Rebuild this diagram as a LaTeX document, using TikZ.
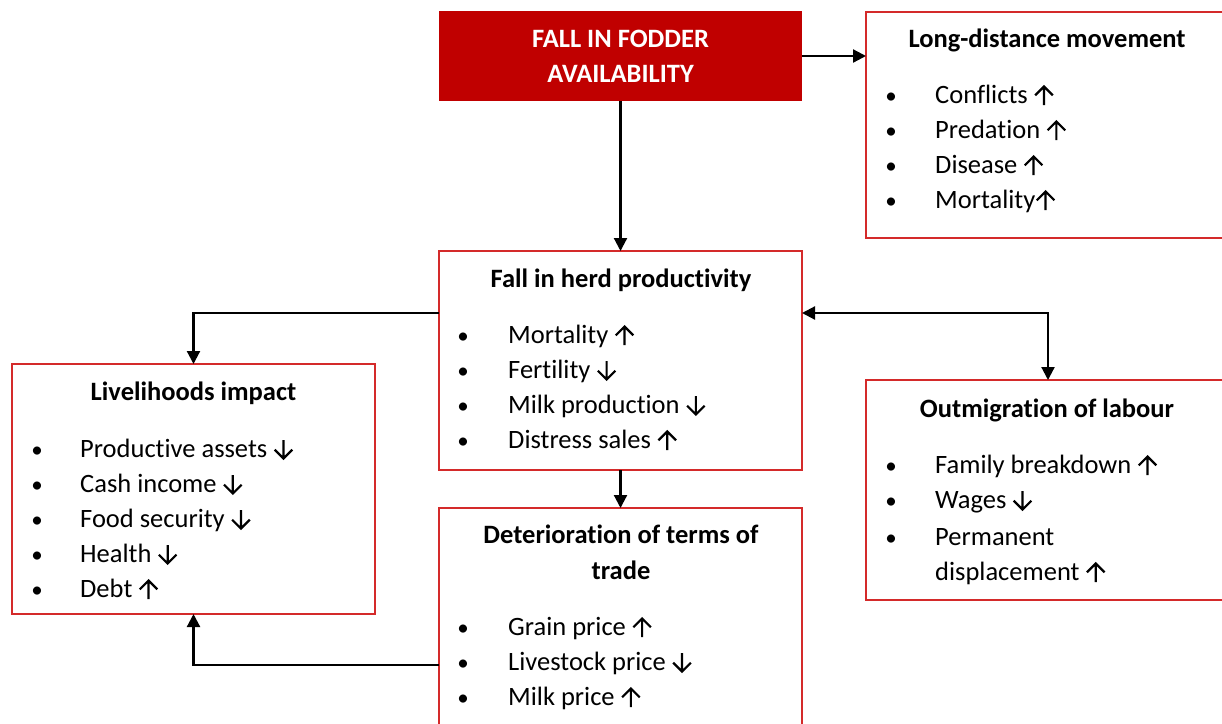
\documentclass[tikz,border=0pt]{standalone}
\usepackage{fontspec}
\setmainfont{Carlito}[Ligatures=NoCommon]
\usetikzlibrary{arrows.meta}
\newcommand\asp{\hspace*{20pt}}
\definecolor{darkred}{HTML}{C00000}
\definecolor{boxred}{HTML}{D42A2A}
\begin{document}
\begin{tikzpicture}[x=1pt,y=-1pt,
  box/.style={draw=boxred, line width=1.2pt, fill=white, inner sep=0pt, outer sep=0pt, minimum width=#1},
  box/.default=363pt,
  headbox/.style={fill=darkred, inner sep=0pt, outer sep=0pt, minimum width=363pt, minimum height=90pt},
  txt/.style={anchor=base west, inner sep=0pt, font=\fontsize{26.5}{32}\selectfont},
  bul/.style={anchor=base, inner sep=0pt, font=\fontsize{23}{28}\selectfont},
  ttl/.style={anchor=base, inner sep=0pt, font=\fontsize{26.5}{32}\selectfont\bfseries},
  conn/.style={line width=2.2pt, -{Triangle[length=13pt,width=13pt]}},
  conn2/.style={line width=2.2pt, {Triangle[length=13pt,width=13pt]}-{Triangle[length=13pt,width=13pt]}},
  up/.pic={\draw[line width=2.2pt] (0,2) -- (0,-16.5) (-8.8,-7.7) -- (0,-16.5) -- (8.8,-7.7);},
  dn/.pic={\draw[line width=2.2pt] (0,-17) -- (0,1.5) (-8.8,-7.3) -- (0,1.5) -- (8.8,-7.3);}
]
\useasboundingbox (0,0) rectangle (1222,723);

% boxes
\node[headbox] (top) at (620.5,56) {};
\node[box=374pt, minimum height=226pt] (ldm) at (1053,125) {};
\node[box, minimum height=219pt] (herd) at (620.5,360.5) {};
\node[box, minimum height=232pt] (terms) at (620.5,624) {};
\node[box, minimum height=250pt] (liv) at (193.5,489) {};
\node[box=374pt, minimum height=220pt] (out) at (1053,490) {};

% connectors
\draw[conn] (top.east) -- (top.east -| ldm.west);
\draw[conn] (top.south) -- (herd.north);
\draw[conn] (herd.south) -- (terms.north);
\draw[conn] (herd.west |- 0,313) -| (liv.north);
\draw[conn] (terms.west |- 0,665) -| (liv.south);
\draw[conn2] (herd.east |- 0,313) -| (1048,0 |- out.north west);

% top box text
\node[ttl, text=white] (t1) at (620.5,47) {FALL IN FODDER};
\node[ttl, text=white] (t2) at (620.5,82) {AVAILABILITY};

% long-distance movement
\node[ttl] (ldmt) at (1047,47) {Long-distance movement};
\foreach \y/\t/\d [count=\i] in {103/{Conflicts \asp}/up, 138/{Predation \asp}/up, 173/{Disease \asp}/up, 208/{Mortality\asp}/up}{
  \node[bul] (ldmb\i) at (891,\y) {•};
  \node[txt] (ldmi\i) at (935,\y) {\t};
  \pic at ([xshift=-10pt]ldmi\i.base east) {\d};
}

% herd productivity
\node[ttl] (herdt) at (621,287) {Fall in herd productivity};
\foreach \y/\t/\d [count=\i] in {343/{Mortality \asp}/up, 378/{Fertility \asp}/dn, 413/{Milk production \asp}/dn, 448/{Distress sales \asp}/up}{
  \node[bul] (herdb\i) at (463,\y) {•};
  \node[txt] (herdi\i) at (508,\y) {\t};
  \pic at ([xshift=-10pt]herdi\i.base east) {\d};
}

% terms of trade
\node[ttl] (termst1) at (621,543) {Deterioration of terms of};
\node[ttl] (termst2) at (621,579) {trade};
\foreach \y/\t/\d [count=\i] in {635/{Grain price \asp}/up, 670/{Livestock price \asp}/dn, 705/{Milk price \asp}/up}{
  \node[bul] (termsb\i) at (463,\y) {•};
  \node[txt] (termsi\i) at (508,\y) {\t};
  \pic at ([xshift=-10pt]termsi\i.base east) {\d};
}

% livelihoods impact
\node[ttl] (livt) at (193.5,400) {Livelihoods impact};
\foreach \y/\t/\d [count=\i] in {457/{Productive assets \asp}/dn, 492/{Cash income \asp}/dn, 527/{Food security \asp}/dn, 562/{Health \asp}/dn, 597/{Debt \asp}/up}{
  \node[bul] (livb\i) at (37,\y) {•};
  \node[txt] (livi\i) at (80,\y) {\t};
  \pic at ([xshift=-10pt]livi\i.base east) {\d};
}

% outmigration of labour
\node[ttl] (outt) at (1047,417) {Outmigration of labour};
\foreach \y/\t/\d [count=\i] in {473/{Family breakdown \asp}/up, 508/{Wages \asp}/dn}{
  \node[bul] (outb\i) at (891,\y) {•};
  \node[txt] (outi\i) at (935,\y) {\t};
  \pic at ([xshift=-10pt]outi\i.base east) {\d};
}
\node[bul] (outb3) at (891,545) {•};
\node[txt] (outi3) at (935,545) {Permanent};
\node[txt] (outi4) at (935,580) {displacement \asp};
\pic at ([xshift=-10pt]outi4.base east) {up};
\end{tikzpicture}
\end{document}
